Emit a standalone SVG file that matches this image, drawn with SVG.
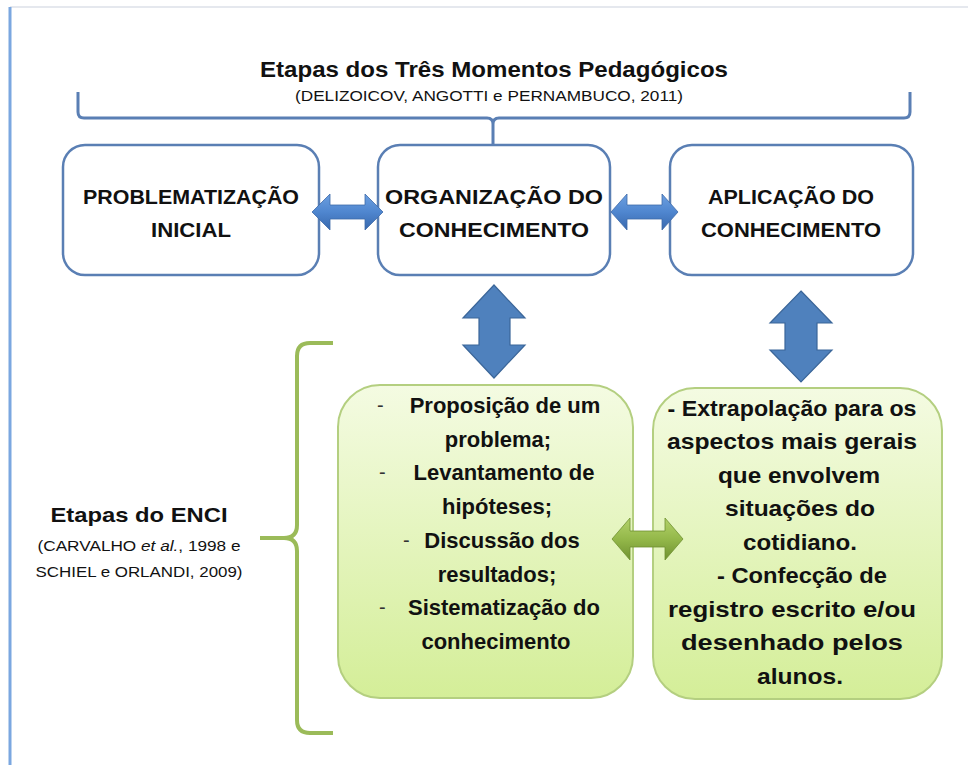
<svg xmlns="http://www.w3.org/2000/svg" width="968" height="765" viewBox="0 0 968 765">
  <style>
    .t { font-family: "Liberation Sans", Arial, sans-serif; fill: #111; }
    .b { font-weight: bold; }
    .g1 { font-family: "Liberation Sans", Arial, sans-serif; font-weight: bold; font-size: 22px; fill: #111; text-anchor: middle; }
    .g2 { font-family: "Liberation Sans", Arial, sans-serif; font-weight: bold; font-size: 22px; fill: #111; text-anchor: middle; }
    .topbox { fill: #ffffff; stroke: #5a7fb4; stroke-width: 2.5; }
    .greenbox { fill: url(#gGreen); stroke: #b4cf80; stroke-width: 2; }
    .dash { font-family: "Liberation Sans", Arial, sans-serif; fill: #333; font-size: 20px; }
  </style>
  <defs>
    <linearGradient id="gGreen" x1="0" y1="0" x2="0" y2="1">
      <stop offset="0" stop-color="#f4fbe2"/>
      <stop offset="1" stop-color="#d4ee98"/>
    </linearGradient>
    <linearGradient id="gBlueH" x1="0" y1="0" x2="0" y2="1">
      <stop offset="0" stop-color="#6c9fe0"/>
      <stop offset="0.5" stop-color="#4f86cf"/>
      <stop offset="1" stop-color="#3868ad"/>
    </linearGradient>
    <linearGradient id="gGreenArrow" x1="0" y1="0" x2="0" y2="1">
      <stop offset="0" stop-color="#b3d26a"/>
      <stop offset="0.5" stop-color="#94b84a"/>
      <stop offset="1" stop-color="#6f9130"/>
    </linearGradient>
  </defs>

  <rect x="0" y="0" width="968" height="765" fill="#ffffff"/>

  <!-- frame -->
  <g id="frame">
    <line x1="10" y1="7" x2="968" y2="7" stroke="#dde1e8" stroke-width="1.5"/>
    <line x1="10" y1="7" x2="10" y2="765" stroke="#7ba7e0" stroke-width="3"/>
  </g>

  <!-- title -->
  <g id="title">
    <text class="t b" x="494" y="77" font-size="22" text-anchor="middle" textLength="468" lengthAdjust="spacingAndGlyphs">Etapas dos Três Momentos Pedagógicos</text>
    <text class="t" x="489" y="101" font-size="14.5" text-anchor="middle" textLength="388" lengthAdjust="spacingAndGlyphs">(DELIZOICOV, ANGOTTI e PERNAMBUCO, 2011)</text>
  </g>

  <!-- top boxes -->
  <g id="problematizacao">
    <rect class="topbox" x="63" y="145" width="256" height="130" rx="22"/>
    <text class="t b" x="191" y="204" font-size="21" text-anchor="middle" textLength="216" lengthAdjust="spacingAndGlyphs">PROBLEMATIZAÇÃO</text>
    <text class="t b" x="191" y="237" font-size="21" text-anchor="middle" textLength="80" lengthAdjust="spacingAndGlyphs">INICIAL</text>
  </g>
  <g id="organizacao">
    <rect class="topbox" x="378" y="145" width="232" height="130" rx="22"/>
    <text class="t b" x="494" y="204" font-size="21" text-anchor="middle" textLength="218" lengthAdjust="spacingAndGlyphs">ORGANIZAÇÃO DO</text>
    <text class="t b" x="494" y="237" font-size="21" text-anchor="middle" textLength="190" lengthAdjust="spacingAndGlyphs">CONHECIMENTO</text>
  </g>
  <g id="aplicacao">
    <rect class="topbox" x="670" y="145" width="243" height="130" rx="22"/>
    <text class="t b" x="791" y="204" font-size="21" text-anchor="middle" textLength="166" lengthAdjust="spacingAndGlyphs">APLICAÇÃO DO</text>
    <text class="t b" x="791" y="237" font-size="21" text-anchor="middle" textLength="180" lengthAdjust="spacingAndGlyphs">CONHECIMENTO</text>
  </g>

  <!-- ENCI label -->
  <g id="enci-label">
    <text class="t b" x="139" y="522" font-size="21" text-anchor="middle" textLength="177" lengthAdjust="spacingAndGlyphs">Etapas do ENCI</text>
    <text class="t" x="139" y="551" font-size="15" text-anchor="middle" textLength="203" lengthAdjust="spacingAndGlyphs">(CARVALHO <tspan font-style="italic">et al.</tspan>, 1998 e</text>
    <text class="t" x="139" y="577" font-size="15" text-anchor="middle" textLength="207" lengthAdjust="spacingAndGlyphs">SCHIEL e ORLANDI, 2009)</text>
  </g>

  <!-- green box 1 -->
  <g id="enci-etapas">
    <rect class="greenbox" x="338" y="385" width="295" height="313" rx="42"/>
    <text class="dash" x="377" y="412">-</text>
    <text class="dash" x="379" y="479">-</text>
    <text class="dash" x="403" y="547">-</text>
    <text class="dash" x="379" y="614">-</text>
    <text class="g1" x="505" y="413">Proposição de um</text>
    <text class="g1" x="498" y="447">problema;</text>
    <text class="g1" x="504" y="480">Levantamento de</text>
    <text class="g1" x="497" y="514">hipóteses;</text>
    <text class="g1" x="502" y="548">Discussão dos</text>
    <text class="g1" x="497" y="582">resultados;</text>
    <text class="g1" x="504" y="615">Sistematização do</text>
    <text class="g1" x="496" y="649">conhecimento</text>
  </g>

  <!-- green box 2 -->
  <g id="aplicacao-etapas">
    <rect class="greenbox" x="653" y="388" width="289" height="311" rx="42"/>
    <text class="g2" x="792" y="416" textLength="249" lengthAdjust="spacingAndGlyphs">- Extrapolação para os</text>
    <text class="g2" x="792" y="449" textLength="250" lengthAdjust="spacingAndGlyphs">aspectos mais gerais</text>
    <text class="g2" x="799" y="483" textLength="162" lengthAdjust="spacingAndGlyphs">que envolvem</text>
    <text class="g2" x="800" y="516" textLength="150" lengthAdjust="spacingAndGlyphs">situações do</text>
    <text class="g2" x="800" y="550" textLength="114" lengthAdjust="spacingAndGlyphs">cotidiano.</text>
    <text class="g2" x="802" y="583" textLength="170" lengthAdjust="spacingAndGlyphs">- Confecção de</text>
    <text class="g2" x="792" y="617" textLength="248" lengthAdjust="spacingAndGlyphs">registro escrito e/ou</text>
    <text class="g2" x="792" y="650" textLength="222" lengthAdjust="spacingAndGlyphs">desenhado pelos</text>
    <text class="g2" x="800" y="684" textLength="86" lengthAdjust="spacingAndGlyphs">alunos.</text>
  </g>

  <!-- connectors: braces and arrows -->
  <g id="connectors">
    <path d="M78 92 L78 112 Q78 118 84 118 L487 118 Q493 118 493 124 L493 145 M493 124 Q493 118 499 118 L904 118 Q910 118 910 112 L910 92" fill="none" stroke="#5a7fb4" stroke-width="3"/>
    <path d="M333 343 L310 343 Q297 343 297 356 L297 525 Q297 538 284 538 L260 538 M284 538 Q297 538 297 551 L297 720 Q297 733 310 733 L333 733" fill="none" stroke="#9bbb59" stroke-width="4"/>
    <!-- blue left-right arrows -->
    <path d="M312 212 L330 194 L330 205 L365 205 L365 194 L383 212 L365 230 L365 219 L330 219 L330 230 Z" fill="url(#gBlueH)" stroke="#3d6aa8" stroke-width="0.8"/>
    <path d="M611 212 L627 194 L627 205 L662 205 L662 194 L678 212 L662 230 L662 219 L627 219 L627 230 Z" fill="url(#gBlueH)" stroke="#3d6aa8" stroke-width="0.8"/>
    <!-- blue up-down arrows -->
    <path d="M494 285 L525 318 L510 318 L510 345 L525 345 L494 378 L463 345 L479 345 L479 318 L463 318 Z" fill="#4f81bd" stroke="#3b6699" stroke-width="1.2"/>
    <path d="M801 291 L832 323 L817 323 L817 350 L832 350 L801 382 L770 350 L785 350 L785 323 L770 323 Z" fill="#4f81bd" stroke="#3b6699" stroke-width="1.2"/>
    <!-- green left-right arrow -->
    <path d="M612 539 L630 518 L630 531 L665 531 L665 518 L683 539 L665 560 L665 547 L630 547 L630 560 Z" fill="url(#gGreenArrow)" stroke="#6f9130" stroke-width="0.8"/>
  </g>
</svg>
